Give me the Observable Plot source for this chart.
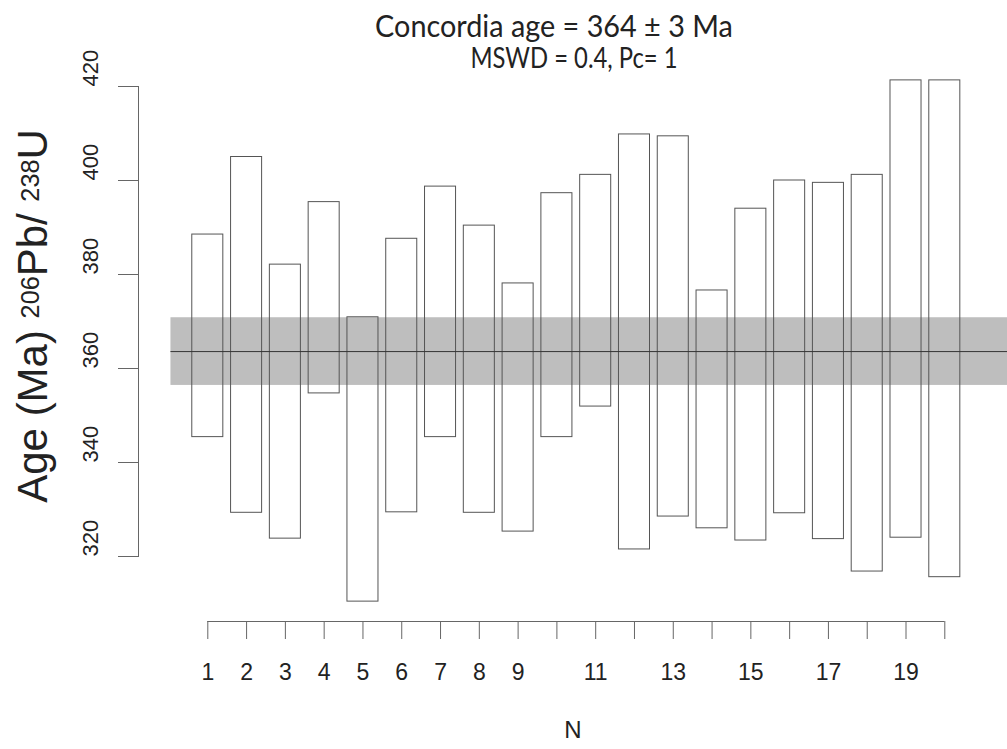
<!DOCTYPE html>
<html><head><meta charset="utf-8">
<script src="https://cdn.jsdelivr.net/npm/d3@7"></script>
<script src="https://cdn.jsdelivr.net/npm/@observablehq/plot@0.6"></script>
<style>
body{margin:0;background:#fff;}
#wrap{position:relative;width:1007px;height:749px;overflow:hidden;background:#fff;}
.t{position:absolute;white-space:nowrap;color:#222;text-align:center;}
.t1{font-family:Lato,"Open Sans",sans-serif;font-size:30px;line-height:36px;left:253.5px;width:600px;top:7px;transform:scaleX(0.96);transform-origin:50% 50%;}
.t2{font-family:Lato,"Open Sans",sans-serif;font-size:28px;line-height:34px;left:273.5px;width:600px;top:40.4px;transform:scaleX(0.85);transform-origin:50% 50%;}
.yt{font-family:"Liberation Sans",Arial,sans-serif;font-size:42px;line-height:50px;width:500px;height:50px;left:-216.6px;top:291px;transform:rotate(-90deg);transform-origin:50% 50%;}
.yt sup{font-size:0.6em;vertical-align:0.3em;line-height:0;}
</style></head><body>
<div id="wrap">
  <div class="t t1">Concordia age = 364 ± 3 Ma</div>
  <div class="t t2">MSWD = 0.4, Pc= 1</div>
  <div class="t yt">Age (Ma)&nbsp;<sup>206</sup>Pb/ <sup>238</sup>U</div>
</div>
<script>
// Analysis number (N)
const sampleN = [1,2,3,4,5,6,7,8,9,10,11,12,13,14,15,16,17,18,19,20];
// Upper and lower ends of each 206Pb/238U age error box (Ma)
const upperAge = [388.5,405.0,382.1,395.4,370.9,387.6,398.7,390.4,378.1,397.3,401.2,409.8,409.4,376.6,394.0,400.0,399.5,401.2,421.3,421.3];
const lowerAge = [345.4,329.3,323.8,354.7,310.4,329.4,345.4,329.3,325.3,345.4,351.9,321.5,328.5,326.0,323.4,329.2,323.7,316.8,324.0,315.6];
// Concordia age band
const ageLine = 363.6;
const bandLow = 356.4;
const bandHigh = 370.8;
const bandStart = 0.05;
const bandEnd = 21.7;
// Axis ticks
const yTicks = [320,340,360,380,400,420];
const xTicks = sampleN;
const xTickLabels = [1,2,3,4,5,6,7,8,9,11,13,15,17,19];

const rows = sampleN.map((n, i) => ({n, upper: upperAge[i], lower: lowerAge[i]}));

const axisColor = "#666";
const plot = Plot.plot({
  width: 1007,
  height: 749,
  marginLeft: 138,
  marginRight: 0,
  marginTop: 86,
  marginBottom: 193,
  style: {fontFamily: "'Liberation Sans', Arial, sans-serif", color: "#222", background: "transparent", overflow: "visible"},
  x: {domain: [1, 20], insetLeft: 69.3, insetRight: 62.7, axis: null},
  y: {domain: [320, 420], axis: null},
  marks: [
    Plot.rect([0], {x1: bandStart, x2: bandEnd, y1: bandLow, y2: bandHigh, fill: "#bebebe"}),
    Plot.rect(rows, {x1: d => d.n - 0.4, x2: d => d.n + 0.4, y1: "lower", y2: "upper", fill: "none", stroke: "#555", strokeWidth: 1}),
    Plot.ruleY([ageLine], {x1: bandStart, x2: bandEnd, stroke: "#333", strokeWidth: 1}),
    Plot.frame({anchor: "left", stroke: axisColor}),
    Plot.axisY(yTicks, {tickSize: 20, fill: "none", stroke: axisColor, label: null}),
    Plot.text(yTicks, {y: d => d, text: d => String(d), frameAnchor: "left", dx: -48, rotate: -90, fontSize: 22, fill: "#222"}),
    Plot.ruleY([320], {x1: 1, x2: 20, dy: 65, stroke: axisColor}),
    Plot.ruleX(xTicks, {x: d => d, y1: 320, y2: 320, dy: 65, insetBottom: -18, stroke: axisColor}),
    Plot.text(xTickLabels, {x: d => d, y: 320, dy: 116.6, text: d => String(d), fontSize: 23, fill: "#222"}),
    Plot.text(["N"], {frameAnchor: "bottom", dy: 181, text: d => d, fontSize: 24, fill: "#222"})
  ]
});
plot.style.position = "absolute";
plot.style.left = "0px";
plot.style.top = "0px";
document.getElementById("wrap").appendChild(plot);
</script>
</body></html>
